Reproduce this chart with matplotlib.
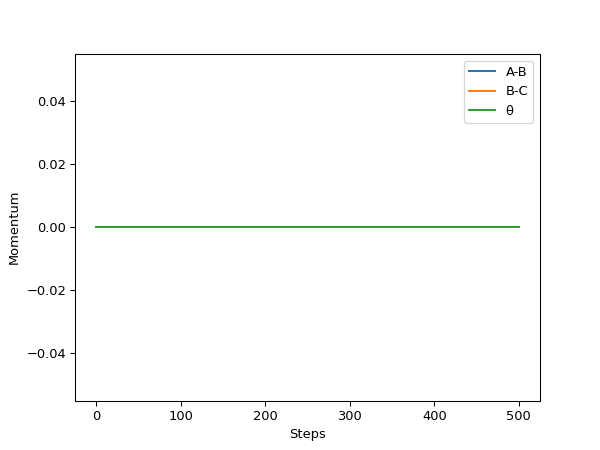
import matplotlib
matplotlib.use("Agg")
import matplotlib.pyplot as plt

# momentum readout per step, every bond stayed at rest
steps = list(range(0, 501))
momentum_ab = [0.0] * len(steps)
momentum_bc = [0.0] * len(steps)
momentum_theta = [0.0] * len(steps)

series_labels = ["A-B", "B-C", "θ"]


def main():
    # default 6.4x4.8 figure, saved small so it comes out 600x450
    fig, ax = plt.subplots(figsize=(6.4, 4.8))
    for values, label in zip([momentum_ab, momentum_bc, momentum_theta], series_labels):
        ax.plot(steps, values, label=label)
    ax.set_xlabel("Steps")
    ax.set_ylabel("Momentum")
    ax.legend()
    fig.savefig("out.png", dpi=93.75)
    plt.close(fig)


if __name__ == "__main__":
    main()
